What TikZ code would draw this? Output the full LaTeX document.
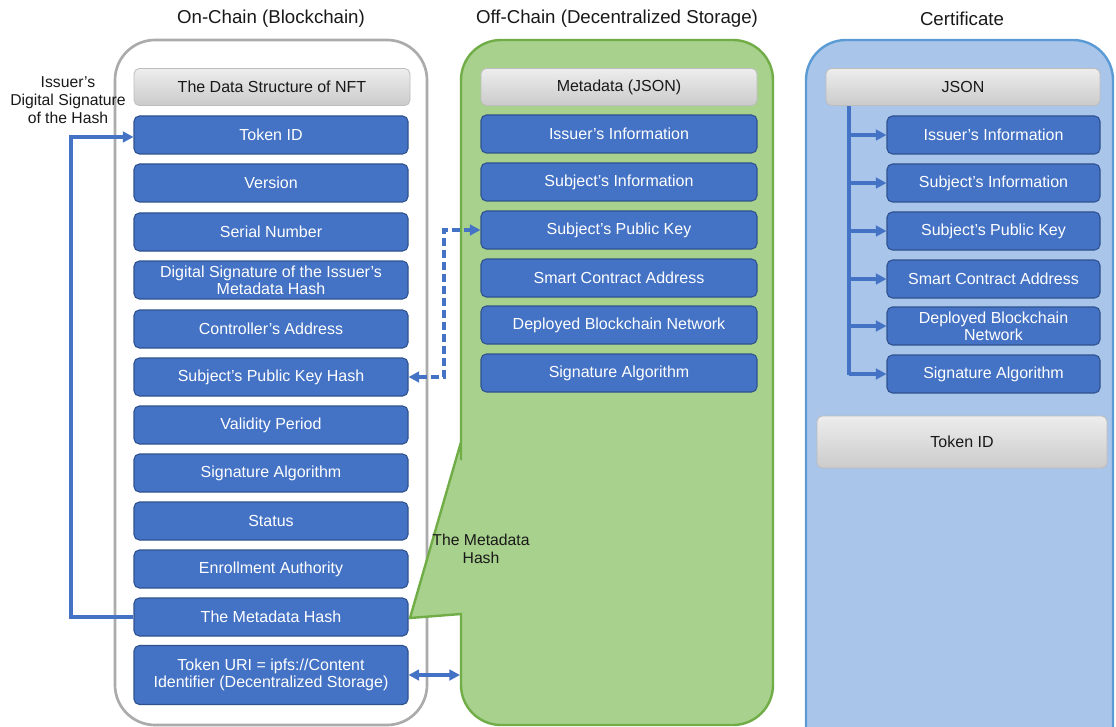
\documentclass[tikz,border=0pt]{standalone}
\usepackage{fontspec}
\setmainfont{Liberation Sans}
\usetikzlibrary{arrows.meta}
\definecolor{bbox}{HTML}{4472C4}
\definecolor{bboxline}{HTML}{2F528F}
\definecolor{grayline}{HTML}{BDBDBD}
\definecolor{gtop}{HTML}{EDEDED}
\definecolor{gbot}{HTML}{CBCBCB}
\definecolor{greenfill}{HTML}{A8D18D}
\definecolor{greenline}{HTML}{70AD47}
\definecolor{certfill}{HTML}{A9C5E9}
\definecolor{certline}{HTML}{5B9BD5}
\definecolor{arrowblue}{HTML}{4472C4}
\definecolor{outer}{HTML}{ABABAB}
\tikzset{
  bluebox/.style={draw=bboxline, line width=0.8pt, fill=bbox, rounded corners=4pt, text=white,
    font=\fontsize{12}{13}\selectfont, align=center, inner sep=0pt, minimum height=38*0.75pt},
  headbox/.style={draw=grayline, line width=0.6pt, top color=gtop, bottom color=gbot, rounded corners=4pt,
    text=black!90, font=\fontsize{12}{13}\selectfont, align=center, inner sep=0pt, minimum height=37*0.75pt},
  title/.style={font=\fontsize{14}{16}\selectfont, text=black!90},
  lbl/.style={font=\fontsize{11.8}{13.5}\selectfont, text=black!90, align=center, inner sep=0pt},
  tip/.style={-{Triangle[length=8pt,width=8pt]}},
  conn/.style={draw=arrowblue, line width=2.3pt, tip},
  dtip/.style={{Triangle[length=8pt,width=8pt]}-{Triangle[length=8pt,width=8pt]}},
}
\begin{document}
\begin{tikzpicture}[x=0.75pt,y=-0.75pt]
\useasboundingbox (0,0) rectangle (1116,727);
\clip (0,0) rectangle (1116,727);
\fill[white] (0,0) rectangle (1116,727);
% containers
\draw[outer, line width=2pt, rounded corners=30pt] (115,40) rectangle (427,725);
\draw[greenline, fill=greenfill, line width=1.8pt] (461,614) -- (461,640)
  [rounded corners=30pt] -- (461,725) -- (773,725) -- (773,40) -- (461,40) -- (461,420)
  [sharp corners] -- (461,442) -- (410,618) -- cycle;
\draw[certline, fill=certfill, line width=1.8pt, rounded corners=30pt] (806,40) rectangle (1113,770);
% titles
\node[title] (t1) at (271,19) {On-Chain (Blockchain)};
\node[title] (t2) at (617,19) {Off-Chain (Decentralized Storage)};
\node[title] (t3) at (962,19) {Certificate};
% on-chain column
\node[headbox, minimum width=276*0.75pt] (h1) at (272,87) {The Data Structure of NFT};
\foreach \n/\y/\t in {
  a1/135/Token ID,
  a2/183/Version,
  a3/232/Serial Number,
  a4/280/{Digital Signature of the Issuer's\\Metadata Hash},
  a5/329/Controller's Address,
  a6/377/Subject's Public Key Hash,
  a7/425/Validity Period,
  a8/473/Signature Algorithm,
  a9/521/Status,
  a10/569/Enrollment Authority,
  a11/617/The Metadata Hash}{
  \node[bluebox, minimum width=274*0.75pt] (\n) at (271,\y) {\t};
}
\node[bluebox, minimum width=274*0.75pt, minimum height=59*0.75pt] (a12) at (271,675)
  {Token URI = ipfs://Content\\Identifier (Decentralized Storage)};
% off-chain column
\node[headbox, minimum width=276*0.75pt] (h2) at (619,87) {Metadata (JSON)};
\foreach \n/\y/\t in {
  b1/134/Issuer's Information,
  b2/182/Subject's Information,
  b3/230/Subject's Public Key,
  b4/278/Smart Contract Address,
  b5/325/Deployed Blockchain Network,
  b6/373/Signature Algorithm}{
  \node[bluebox, minimum width=276*0.75pt] (\n) at (619,\y) {\t};
}
% certificate column
\node[headbox, minimum width=274*0.75pt] (h3) at (963,87) {JSON};
\foreach \n/\y/\t in {
  c1/135/Issuer's Information,
  c2/183/Subject's Information,
  c3/231/Subject's Public Key,
  c4/279/Smart Contract Address,
  c5/326/{Deployed Blockchain\\Network},
  c6/374/Signature Algorithm}{
  \node[bluebox, minimum width=213*0.75pt] (\n) at (993.5,\y) {\t};
}
\node[headbox, minimum width=290*0.75pt, minimum height=52*0.75pt] (tid) at (962,442) {Token ID};
% tree in certificate
\coordinate (tr0) at (849,106);
\coordinate (tr6) at (849,375);
\draw[arrowblue, line width=2.3pt] (tr0) -- (tr6);
\foreach \n in {c1,c2,c3,c4,c5,c6}{
  \draw[conn] (849,0 |- \n.west) -- (\n.west);
}
% left loop arrow
\node[lbl] (sig) at (68,100) {Issuer's\\Digital Signature\\of the Hash};
\coordinate (l1) at (71,617);
\coordinate (l2) at (71,137);
\draw[conn] (a11.west) -- (l1) -- (l2) -- (a1.west |- l2);
% dashed double arrow
\coordinate (d1) at (444,377);
\coordinate (d2) at (444,230);
\draw[conn, dash pattern=on 6pt off 3pt, dtip]
  (a6.east) -- (d1) -- (d2) -- (b3.west);
% token uri double arrow
\coordinate (g1) at (460,675);
\draw[conn, dtip] (a12.east) -- (g1);
% callout label
\node[lbl] (mh) at (481,549) {The Metadata\\Hash};
\end{tikzpicture}
\end{document}
